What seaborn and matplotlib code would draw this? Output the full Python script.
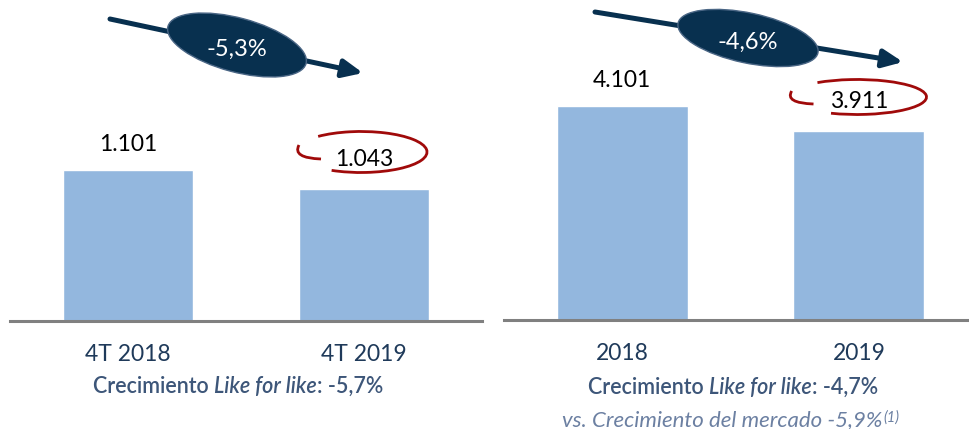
import numpy as np
import pandas as pd
import matplotlib
matplotlib.use("Agg")
import matplotlib.pyplot as plt
import seaborn as sns
from matplotlib.patches import Ellipse, Arc, PathPatch
from matplotlib.path import Path

# datos
quarter_labels = ["4T 2018", "4T 2019"]
quarter_values = [1101, 1043]
year_labels = ["2018", "2019"]
year_values = [4101, 3911]
quarter_change = "-5,3%"
year_change = "-4,6%"
lfl_quarter = "-5,7%"
lfl_year = "-4,7%"
market_growth = "-5,9%"

BAR = "#93b7de"
NAVY = "#08304f"
RED = "#a00a0a"
TXT = "#1f3a5a"
TXT2 = "#3d5679"
TXT3 = "#6c80a2"

sns.set_theme(style="white")
plt.rcParams["font.family"] = ["Lato", "DejaVu Sans"]

W, H = 970, 429
fig = plt.figure(figsize=(W / 100, H / 100), dpi=100)


def fmt(v):
    return f"{v:,}".replace(",", ".")


def panel(rect, labels, values, ylim, xlim):
    ax = fig.add_axes(rect)
    df = pd.DataFrame({"periodo": labels, "valor": values})
    sns.barplot(data=df, x="periodo", y="valor", color=BAR, width=0.555,
                saturation=1, ax=ax)
    ax.set_ylim(*ylim)
    ax.set_xlim(*xlim)
    ax.set_xlabel("")
    ax.set_ylabel("")
    ax.set_yticks([])
    for s in ["top", "left", "right"]:
        ax.spines[s].set_visible(False)
    ax.spines["bottom"].set_color("#808080")
    ax.spines["bottom"].set_linewidth(2.2)
    ax.tick_params(axis="x", length=0, pad=16.5, labelsize=16.5, labelcolor=TXT)
    # etiquetas de valor; la segunda barra lleva el circulo rojo, algo mas alta
    bars = ax.containers[0]
    ax.bar_label(bars, labels=[fmt(values[0]), ""], padding=10.5,
                 fontsize=16.5, color="black")
    ax.bar_label(bars, labels=["", fmt(values[1])], padding=13.5,
                 fontsize=16.5, color="black")
    ax.patch.set_alpha(0)
    return ax


ax1 = panel([10 / W, 108 / H, 472 / W, 321 / H], quarter_labels, quarter_values,
            (640, 1620), (-0.5, 1.5))
ax2 = panel([504 / W, 109 / H, 466 / W, 320 / H], year_labels, year_values,
            (2475, 4906), (-0.5, 1.47))

# capa de anotaciones en pixeles
ov = fig.add_axes([0, 0, 1, 1], zorder=5)
ov.set_xlim(0, W)
ov.set_ylim(0, H)
ov.axis("off")


def Y(y):
    return H - y


def trend(p0, p1, centre, w, h, ang, label):
    ov.annotate("", xy=(p1[0], Y(p1[1])), xytext=(p0[0], Y(p0[1])),
                arrowprops=dict(arrowstyle="-|>,head_length=1.0,head_width=0.45",
                                color=NAVY, lw=3.6, shrinkA=0, shrinkB=0))
    ov.add_patch(Ellipse((centre[0], Y(centre[1])), w, h, angle=ang,
                         facecolor=NAVY, edgecolor="#4a6685", lw=1, zorder=3))
    ov.text(centre[0], Y(centre[1] + 4), label, color="white", fontsize=17,
            ha="center", va="center", zorder=4)


trend((110, 19), (363, 73), (237, 45), 143, 54, -15, quarter_change)
trend((595, 12), (903, 62), (748, 38), 143, 50, -12, year_change)


def loop(centre, w, h):
    # trazo a mano alzada: casi una elipse, con un gancho hacia dentro a la izquierda
    cx, cy = centre[0], Y(centre[1])
    ov.add_patch(Arc((cx, cy), w, h, theta1=212, theta2=520,
                     color=RED, lw=2))
    a = np.deg2rad(160)
    p0 = (cx + w / 2 * np.cos(a), cy + h / 2 * np.sin(a))
    ctrl = (cx - w / 2 - 3, cy - 6)
    p1 = (cx - w / 2 + 26, cy - 7)
    ov.add_patch(PathPatch(Path([p0, ctrl, p1], [Path.MOVETO, Path.CURVE3, Path.CURVE3]),
                           fill=False, edgecolor=RED, lw=2))


loop((361, 152), 132, 41)
loop((857, 97), 139, 35)


def lfl_line(x, y, value):
    t1 = ov.text(x, Y(y), "Crecimiento ", fontsize=15.5, color=TXT2,
                 weight="semibold", ha="left", va="baseline")
    t2 = ov.annotate("Like for like", xy=(1, 0), xycoords=t1, fontsize=15.5,
                     color=TXT2, style="italic", weight="semibold",
                     ha="left", va="bottom")
    ov.annotate(f": {value}", xy=(1, 0), xycoords=t2, fontsize=15.5,
                color=TXT2, weight="semibold", ha="left", va="bottom")


lfl_line(93, 393, lfl_quarter)
lfl_line(588, 394, lfl_year)

t = ov.text(562, Y(426), f"vs. Crecimiento del mercado {market_growth}",
            fontsize=16, color=TXT3, style="italic", ha="left", va="baseline")
ov.annotate("(1)", xy=(1, 1), xycoords=t, xytext=(1, 0),
            textcoords="offset points", fontsize=10.5, color=TXT3,
            style="italic", ha="left", va="top")

fig.savefig("out.png", dpi=100)
